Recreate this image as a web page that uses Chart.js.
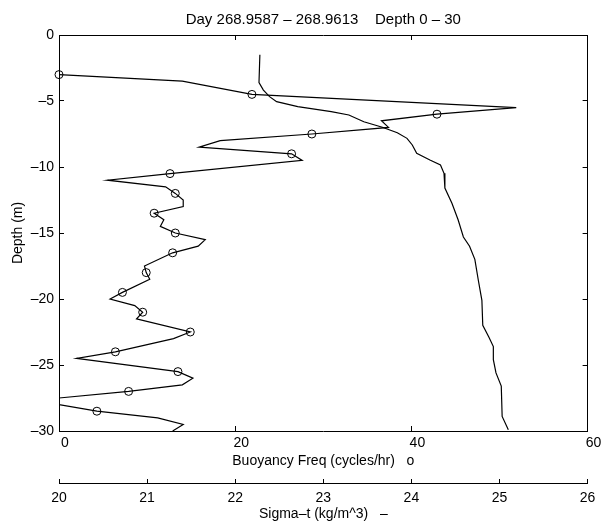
<!DOCTYPE html>
<html>
<head>
<meta charset="utf-8">
<script src="https://cdn.jsdelivr.net/npm/chart.js@4.4.0/dist/chart.umd.min.js"></script>
<style>
  html, body { margin: 0; padding: 0; background: #fff; }
</style>
</head>
<body>
<canvas id="chart" width="606" height="523"></canvas>
<script>
// buoyancy frequency line (cycles/hr) against depth (m)
const bfDepth = [-3, -3.5, -4.5, -5.5, -6, -6.5, -7, -7.5, -8, -8.5, -9, -9.5, -10.5, -11, -11.5, -12, -12.5, -13, -13.5, -14, -14.5, -15, -15.5, -16, -16.5, -17.5, -18, -18.5, -19.5, -20, -20.5, -21, -21.5, -22.5, -23, -24, -24.5, -25.5, -26, -26.5, -27, -27.5, -28, -28.5, -29, -29.5, -30];
const bfFreq = [0, 14.0, 21.9, 51.9, 42.9, 36.6, 37.4, 28.7, 18.3, 15.9, 26.4, 27.6, 12.6, 5.5, 12.1, 13.2, 14.1, 14.1, 10.8, 11.9, 11.5, 13.2, 16.6, 15.8, 12.9, 9.7, 9.9, 10.3, 7.2, 5.8, 8.6, 9.5, 8.8, 14.9, 13.0, 6.4, 2.0, 13.5, 15.2, 14.0, 7.9, 0, 0, 4.3, 11.2, 14.1, 12.9];

// circle markers
const markDepth = [-3, -4.5, -6, -7.5, -9, -10.5, -12, -13.5, -15, -16.5, -18, -19.5, -21, -22.5, -24, -25.5, -27, -28.5];
const markFreq = [0, 21.9, 42.9, 28.7, 26.4, 12.6, 13.2, 10.8, 13.2, 12.9, 9.9, 7.2, 9.5, 14.9, 6.4, 13.5, 7.9, 4.3];

// sigma-t (kg/m^3) against depth
const sigDepth = [-1.5, -3.6, -4.17, -4.67, -5.05, -5.43, -5.81, -6.06, -6.57, -6.99, -7.4, -7.83, -8.33, -8.96, -9.47, -9.85, -10.48, -11.6, -12.75, -14.0, -15.3, -16.0, -17.0, -18.6, -20.1, -22.0, -22.9, -23.6, -24.6, -25.6, -26.6, -28.9, -29.9];
const sigVal = [22.28, 22.27, 22.32, 22.39, 22.47, 22.71, 23.09, 23.29, 23.46, 23.67, 23.84, 23.95, 24.01, 24.06, 24.21, 24.33, 24.37, 24.38, 24.46, 24.53, 24.59, 24.66, 24.72, 24.76, 24.80, 24.81, 24.88, 24.93, 24.93, 24.96, 25.02, 25.03, 25.10];

const depthTicks = [0, -5, -10, -15, -20, -25, -30];

const FONT = "'Liberation Sans', Arial, Helvetica, sans-serif";
const font = { family: FONT, size: 14 };
const dash = v => String(v).replace('-', '\u2013');

const pts = (xs, ys) => xs.map((x, i) => ({ x: x, y: ys[i] }));

function frameGrid(len) {
  return { drawOnChartArea: false, drawTicks: true, tickLength: len, color: '#000', lineWidth: 1 };
}

new Chart(document.getElementById('chart'), {
  type: 'scatter',
  data: {
    datasets: [
      {
        data: pts(bfFreq, bfDepth),
        showLine: true, pointRadius: 0, borderColor: '#000', borderWidth: 1.2,
        xAxisID: 'x', yAxisID: 'y'
      },
      {
        data: pts(markFreq, markDepth),
        showLine: false, pointRadius: 4, pointHoverRadius: 4,
        pointBackgroundColor: 'rgba(0,0,0,0)', pointBorderColor: '#000', pointBorderWidth: 1,
        xAxisID: 'x', yAxisID: 'y', clip: false
      },
      {
        data: pts(sigVal, sigDepth),
        showLine: true, pointRadius: 0, borderColor: '#000', borderWidth: 1.2,
        xAxisID: 'sig', yAxisID: 'y'
      }
    ]
  },
  options: {
    responsive: false,
    animation: false,
    devicePixelRatio: 1,
    layout: { padding: { left: 0, right: 14, top: 0, bottom: 0 } },
    plugins: {
      legend: { display: false },
      tooltip: { enabled: false },
      title: {
        display: true,
        fullSize: false,
        text: 'Day 268.9587 \u2013 268.9613    Depth 0 \u2013 30',
        color: '#000',
        font: { family: FONT, size: 15, weight: 'normal' },
        padding: { top: 11, bottom: 6 }
      }
    },
    scales: {
      x: {
        type: 'linear', position: 'bottom', weight: 0, min: 0, max: 60,
        ticks: { stepSize: 20, color: '#000', font: font, padding: 9, labelOffset: 6, maxRotation: 0 },
        grid: frameGrid(-5),
        border: { color: '#000', width: 1 },
        title: { display: true, text: 'Buoyancy Freq (cycles/hr)   o', color: '#000', font: font, padding: { top: 0, bottom: 13.6 } },
        afterFit: s => { s.height = 52; }
      },
      sig: {
        type: 'linear', position: 'bottom', weight: 1, min: 20, max: 26,
        ticks: { stepSize: 1, color: '#000', font: font, padding: 10.6, labelOffset: 0, maxRotation: 0 },
        grid: frameGrid(-4),
        border: { color: '#000', width: 1 },
        title: { display: true, text: 'Sigma\u2013t (kg/m^3)   \u2013', color: '#000', font: font, padding: { top: 0, bottom: 0.6 } },
        afterFit: s => { s.height = 40; }
      },
      x2: {
        type: 'linear', position: 'top', min: 0, max: 60,
        ticks: { display: false, stepSize: 20 },
        grid: frameGrid(-5),
        border: { color: '#000', width: 1 },
        afterFit: s => { s.height = 0; }
      },
      y: {
        type: 'linear', position: 'left', min: -30, max: 0,
        afterBuildTicks: s => { s.ticks = depthTicks.map(v => ({ value: v })); },
        ticks: { color: '#000', font: font, padding: 10, callback: dash },
        grid: frameGrid(-5),
        border: { color: '#000', width: 1 },
        title: { display: true, text: 'Depth (m)', color: '#000', font: font, padding: { top: 9.6, bottom: 0 } },
        afterFit: s => { s.width = 59; }
      },
      y2: {
        type: 'linear', position: 'right', min: -30, max: 0,
        afterBuildTicks: s => { s.ticks = depthTicks.map(v => ({ value: v })); },
        ticks: { display: false },
        grid: frameGrid(-5),
        border: { color: '#000', width: 1 },
        afterFit: s => { s.width = 0; }
      }
    }
  }
});
</script>
</body>
</html>
